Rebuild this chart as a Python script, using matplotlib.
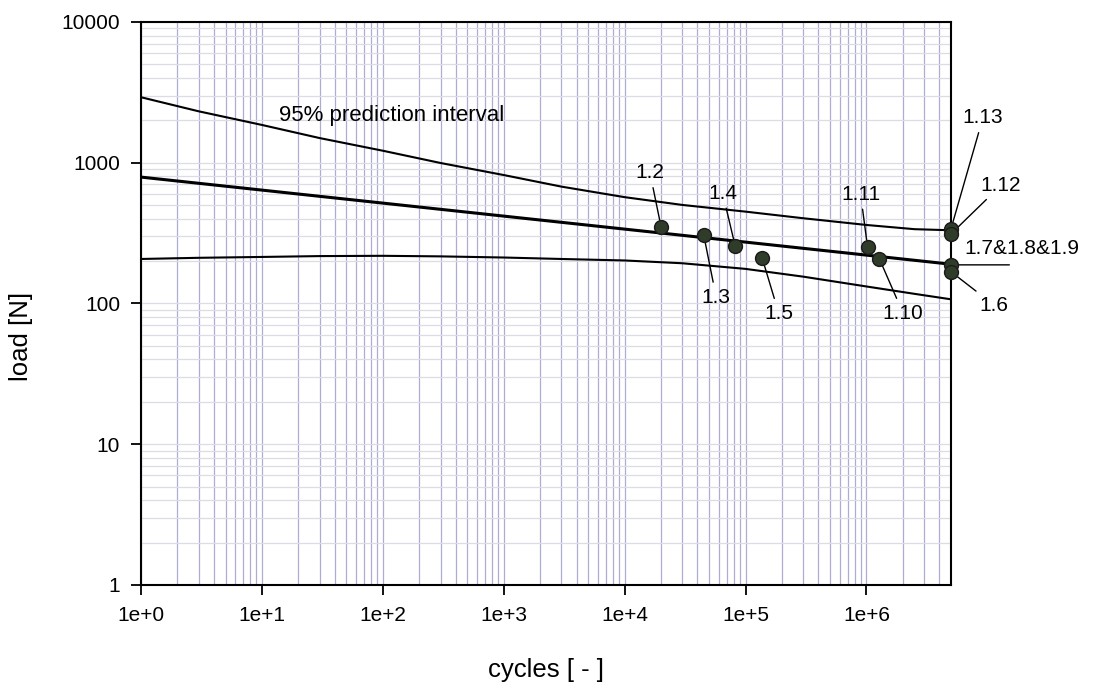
import matplotlib
matplotlib.use('Agg')
from matplotlib import pyplot as plt
from matplotlib.ticker import LogLocator, FixedLocator, FixedFormatter, NullFormatter

plt.rcParams['font.family'] = ['Liberation Sans', 'DejaVu Sans']

# test results: cycles to failure / run-out and load
labels = ['1.2', '1.3', '1.4', '1.5', '1.11', '1.10', '1.13', '1.12', '1.7&1.8&1.9', '1.6']
cycles = [2.0e4, 4.5e4, 8.2e4, 1.37e5, 1.02e6, 1.28e6, 5e6, 5e6, 5e6, 5e6]
load = [350, 308, 256, 211, 252, 207, 339, 312, 188, 168]

# fitted line
fit_cycles = [1, 5e6]
fit_load = [790, 190]

# 95% prediction interval
band_cycles = [1, 3, 10, 30, 100, 300, 1e3, 3e3, 1e4, 3e4, 1e5, 3e5, 1e6, 2.5e6, 5e6]
band_upper = [2917, 2317, 1854, 1496, 1216, 995, 817, 676, 569, 501, 449, 403, 361, 337, 331]
band_lower = [207, 211, 214, 217, 218, 216, 212, 207, 202, 193, 176, 155, 132, 117, 107]

x_ticks = [1, 10, 100, 1e3, 1e4, 1e5, 1e6]
x_ticklabels = ['1e+0', '1e+1', '1e+2', '1e+3', '1e+4', '1e+5', '1e+6']
y_ticks = [1, 10, 100, 1000, 10000]
y_ticklabels = ['1', '10', '100', '1000', '10000']

# label offsets in points (text position relative to the point)
offsets = {
    '1.2': (-8, 39), '1.3': (9, -45), '1.4': (-9, 38), '1.5': (12, -40),
    '1.11': (-5, 38), '1.10': (17, -39), '1.13': (23, 80), '1.12': (36, 35),
    '1.7&1.8&1.9': (51, 12), '1.6': (31, -24),
}

fig = plt.figure(figsize=(10.95, 6.85), dpi=100)
ax = fig.add_axes([0.1288, 0.146, 0.7397, 0.822])
ax.set_xscale('log')
ax.set_yscale('log')
ax.set_xlim(1, 5e6)
ax.set_ylim(1, 10000)

ax.xaxis.set_major_locator(FixedLocator(x_ticks))
ax.xaxis.set_major_formatter(FixedFormatter(x_ticklabels))
ax.yaxis.set_major_locator(FixedLocator(y_ticks))
ax.yaxis.set_major_formatter(FixedFormatter(y_ticklabels))
ax.xaxis.set_minor_locator(LogLocator(base=10, subs=range(2, 10), numticks=20))
ax.yaxis.set_minor_locator(LogLocator(base=10, subs=range(2, 10), numticks=20))
ax.xaxis.set_minor_formatter(NullFormatter())
ax.yaxis.set_minor_formatter(NullFormatter())

ax.grid(True, axis='x', which='both', color='#adadd4', lw=0.9)
ax.grid(True, axis='y', which='both', color='#dcdce6', lw=0.9)
ax.set_axisbelow(True)

ax.tick_params(which='major', direction='out', length=7, width=1.3, labelsize=15, pad=8)
ax.tick_params(which='minor', length=0)
for s in ax.spines.values():
    s.set_linewidth(1.5)

ax.plot(band_cycles, band_upper, color='black', lw=1.5)
ax.plot(band_cycles, band_lower, color='black', lw=1.5)
ax.plot(fit_cycles, fit_load, color='black', lw=2.2)

ax.plot(cycles, load, 'o', ms=10, mfc='#303c2a', mec='#1a1a1a', mew=1, clip_on=False, zorder=5)

for lab, cx, ly in zip(labels, cycles, load):
    ax.annotate(lab, xy=(cx, ly), xytext=offsets[lab], textcoords='offset points',
                ha='center', va='center', fontsize=15, annotation_clip=False,
                arrowprops=dict(arrowstyle='-', color='black', lw=1,
                                shrinkA=2, shrinkB=5) if lab != '1.7&1.8&1.9' else None)

# leader for the triple run-out
ax.annotate('', xy=(5e6, 188), xytext=(42, 0), textcoords='offset points',
            annotation_clip=False,
            arrowprops=dict(arrowstyle='-', color='black', lw=1, shrinkA=0, shrinkB=5))

ax.text(118, 2160, '95% prediction interval', fontsize=16, ha='center', va='center')

ax.set_xlabel('cycles [ - ]', fontsize=18.5, labelpad=24)
ax.set_ylabel('load [N]', fontsize=18.5)
ax.yaxis.set_label_coords(-0.133, 0.442)

fig.savefig('out.png', dpi=100)
